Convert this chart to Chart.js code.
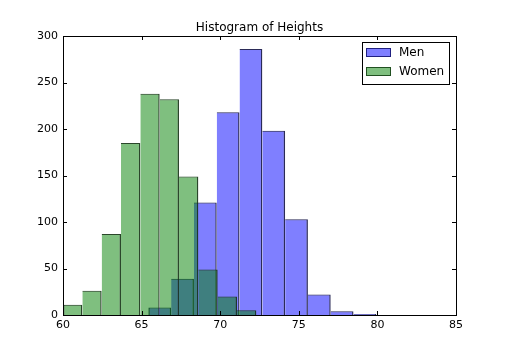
<!DOCTYPE html>
<html>
<head>
<meta charset="utf-8">
<script src="https://cdn.jsdelivr.net/npm/chart.js@4"></script>
<style>
    html, body { margin: 0; padding: 0; background: #fff; }
    #wrap { width: 505px; height: 361px; }
</style>
</head>
<body>
<div id="wrap"><canvas id="histChart"></canvas></div>
<script>
// Histogram data
const menEdges = [65.43, 66.88, 68.33, 69.78, 71.23, 72.68, 74.13, 75.58, 77.03, 78.48, 79.93];
const menCounts = [8, 39, 121, 218, 286, 198, 103, 22, 4, 1];
const womenEdges = [60.00, 61.23, 62.46, 63.69, 64.92, 66.15, 67.38, 68.61, 69.84, 71.07, 72.30];
const womenCounts = [11, 26, 87, 185, 238, 232, 149, 49, 20, 5];
const xTicks = [60, 65, 70, 75, 80, 85];
const yTicks = [0, 50, 100, 150, 200, 250, 300];

const FONT = 'DejaVu Sans';

function toPoints(edges, counts) {
    return counts.map((c, i) => ({ x: (edges[i] + edges[i + 1]) / 2, y: c }));
}

// matplotlib style frame, inward ticks and legend box
const framePlugin = {
    id: 'frame',
    afterDraw(chart) {
        const ctx = chart.ctx;
        const area = chart.chartArea;
        const xs = chart.scales.x;
        const ys = chart.scales.y;
        ctx.save();
        ctx.strokeStyle = '#000';
        ctx.lineWidth = 1;
        ctx.beginPath();
        xTicks.forEach(t => {
            const px = Math.round(xs.getPixelForValue(t)) + 0.5;
            ctx.moveTo(px, area.bottom);
            ctx.lineTo(px, area.bottom - 4);
            ctx.moveTo(px, area.top);
            ctx.lineTo(px, area.top + 4);
        });
        yTicks.forEach(t => {
            const py = Math.round(ys.getPixelForValue(t)) + 0.5;
            ctx.moveTo(area.left, py);
            ctx.lineTo(area.left + 4, py);
            ctx.moveTo(area.right, py);
            ctx.lineTo(area.right - 4, py);
        });
        ctx.stroke();
        ctx.strokeRect(Math.round(area.left) + 0.5, Math.round(area.top) + 0.5,
            Math.round(area.right - area.left), Math.round(area.bottom - area.top));

        // legend
        const bx = 362.5, by = 42.5, bw = 87, bh = 42;
        ctx.fillStyle = '#fff';
        ctx.fillRect(bx, by, bw, bh);
        ctx.strokeRect(bx, by, bw, bh);
        ctx.font = '12px ' + FONT;
        ctx.textBaseline = 'middle';
        ctx.textAlign = 'left';
        chart.data.datasets.forEach((ds, i) => {
            const y0 = 48 + i * 19;
            ctx.fillStyle = ds.backgroundColor;
            ctx.fillRect(366, y0, 25, 9);
            ctx.strokeStyle = ds.legendEdge;
            ctx.strokeRect(366.5, y0 + 0.5, 24, 8);
            ctx.fillStyle = '#000';
            ctx.fillText(ds.label, 399, y0 + 5);
        });
        ctx.restore();
    }
};

// one shared edge between neighbouring bins, like a histogram outline
const barStyle = {
    borderWidth: c => ({ top: 1, right: 1.4, bottom: 0, left: c.dataIndex === 0 ? 1.4 : 0 }),
    borderSkipped: false,
    grouped: false,
    barPercentage: 100,
    categoryPercentage: 1
};

const ctx = document.getElementById('histChart').getContext('2d');
const chart = new Chart(ctx, {
    type: 'bar',
    data: {
        datasets: [Object.assign({
            label: 'Men',
            data: toPoints(menEdges, menCounts),
            xAxisID: 'x',
            backgroundColor: 'rgba(0, 0, 255, 0.5)',
            borderColor: 'rgba(20, 20, 70, 0.9)',
            legendEdge: 'rgba(0, 0, 86, 0.75)',
            order: 1
        }, barStyle), Object.assign({
            label: 'Women',
            data: toPoints(womenEdges, womenCounts),
            xAxisID: 'xw',
            backgroundColor: 'rgba(0, 128, 0, 0.5)',
            borderColor: 'rgba(20, 50, 20, 0.9)',
            legendEdge: 'rgba(0, 43, 0, 0.75)',
            order: 0
        }, barStyle)]
    },
    options: {
        responsive: true,
        maintainAspectRatio: false,
        animation: false,
        layout: { padding: { left: 0, right: 49, top: 0, bottom: 0 } },
        plugins: {
            legend: { display: false },
            tooltip: { enabled: false },
            title: {
                display: true,
                fullSize: false,
                text: 'Histogram of Heights',
                color: '#000',
                font: { family: FONT, size: 12, weight: 'normal' },
                padding: { top: 21, bottom: 0.6 }
            }
        },
        scales: {
            x: {
                type: 'linear',
                min: 60,
                max: 85,
                offset: false,
                grid: { display: false, offset: false, drawTicks: false },
                border: { display: false },
                ticks: {
                    stepSize: 5,
                    color: '#000',
                    padding: 4,
                    maxRotation: 0,
                    font: { family: FONT, size: 11 }
                },
                afterFit(scale) { scale.height = 46; }
            },
            xw: {
                type: 'linear',
                display: false,
                min: 60,
                max: 85,
                offset: false,
                grid: { offset: false },
                ticks: { stepSize: 5 }
            },
            y: {
                min: 0,
                max: 300,
                grid: { display: false, drawTicks: false },
                border: { display: false },
                ticks: {
                    stepSize: 50,
                    color: '#000',
                    padding: 5,
                    font: { family: FONT, size: 11 }
                },
                afterFit(scale) { scale.width = 63; }
            }
        }
    },
    plugins: [framePlugin]
});

// bar widths = one bin width in pixels on the laid-out x scale
const xs = chart.scales.x;
chart.data.datasets[0].maxBarThickness = xs.getPixelForValue(menEdges[1]) - xs.getPixelForValue(menEdges[0]);
chart.data.datasets[1].maxBarThickness = xs.getPixelForValue(womenEdges[1]) - xs.getPixelForValue(womenEdges[0]);
chart.update();
</script>
</body>
</html>
